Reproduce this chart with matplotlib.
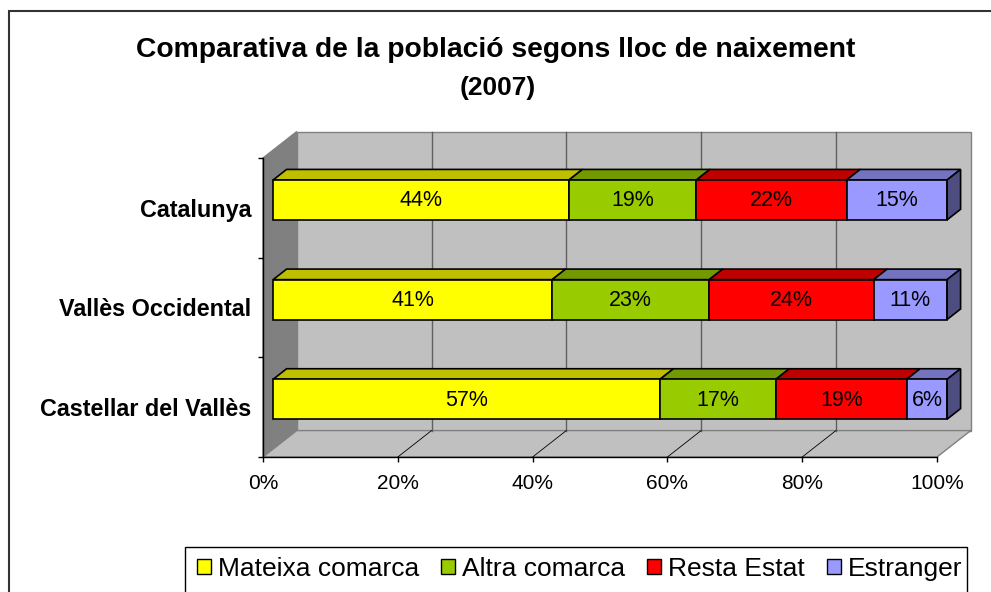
import matplotlib as mpl
mpl.use('Agg')
import matplotlib.pyplot as plt
from matplotlib.patches import Polygon, Rectangle
import numpy as np

plt.rcParams['font.family'] = ['Liberation Sans', 'DejaVu Sans']

# data (percent of population by place of birth, 2007)
categories = ['Castellar del Vallès', 'Vallès Occidental', 'Catalunya']
series = ['Mateixa comarca', 'Altra comarca', 'Resta Estat', 'Estranger']
mateixa = [57.4, 41.4, 43.9]
altra = [17.2, 23.3, 18.9]
resta = [19.4, 24.4, 22.3]
estranger = [6.0, 10.9, 14.9]
xticks = [0, 20, 40, 60, 80, 100]

colors = ['#FFFF00', '#99CC00', '#FF0000', '#9999FF']

W, H = 991, 592
fig = plt.figure(figsize=(W / 100, H / 100), dpi=100)


def fx(px):
    return px / W


def fy(py):
    return 1 - py / H


def shade(c, k):
    return tuple(np.array(mpl.colors.to_rgb(c)) * k)


ax = fig.add_axes([fx(263), fy(457), (937 - 263) / W, (457 - 158) / H])
ax.set_xlim(0, 100)
ax.set_ylim(0, 3)
ax.patch.set_visible(False)

# 3d depth offset in data units
dx, dy = 5.0, 0.265
wall = dict(closed=True, clip_on=False, edgecolor='#808080', lw=1, zorder=1)
ax.add_patch(Polygon([(dx, dy), (100 + dx, dy), (100 + dx, 3 + dy), (dx, 3 + dy)],
                     facecolor='#C0C0C0', **wall))
ax.add_patch(Polygon([(0, 0), (dx, dy), (dx, 3 + dy), (0, 3)],
                     facecolor='#808080', **wall))
ax.add_patch(Polygon([(0, 0), (100, 0), (100 + dx, dy), (dx, dy)],
                     facecolor='#C0C0C0', **wall))
for t in xticks[1:-1]:
    ax.plot([t + dx, t + dx], [dy, 3 + dy], color='#606060', lw=1, clip_on=False, zorder=1.5)
    ax.plot([t, t + dx], [0, dy], color='black', lw=0.6, clip_on=False, zorder=1.5)

# stacked 3d bars
f1, f2, hh = 0.3, 0.7, 0.2
data = np.array([mateixa, altra, resta, estranger])
totals = data.sum(axis=0)
edge = dict(edgecolor='black', lw=1.2, clip_on=False, zorder=3)
for j in range(len(categories)):
    yc = j + 0.5
    left = 0.0
    for i in range(len(series)):
        w = data[i, j] / totals[j] * 100
        top = yc + hh
        ax.add_patch(Polygon([(left + f1 * dx, top + f1 * dy), (left + w + f1 * dx, top + f1 * dy),
                              (left + w + f2 * dx, top + f2 * dy), (left + f2 * dx, top + f2 * dy)],
                             closed=True, facecolor=shade(colors[i], 0.75), **edge))
        ax.add_patch(Rectangle((left + f1 * dx, yc - hh + f1 * dy), w, 2 * hh,
                               facecolor=colors[i], **edge))
        ax.text(left + w / 2 + f1 * dx, yc + f1 * dy - 0.01, '{:.0f}%'.format(data[i, j]),
                ha='center', va='center', fontsize=15.5, zorder=4)
        left += w
    ax.add_patch(Polygon([(100 + f1 * dx, yc - hh + f1 * dy), (100 + f2 * dx, yc - hh + f2 * dy),
                          (100 + f2 * dx, yc + hh + f2 * dy), (100 + f1 * dx, yc + hh + f1 * dy)],
                         closed=True, facecolor=shade(colors[-1], 0.5), **edge))

# axes
for s in ['top', 'right']:
    ax.spines[s].set_visible(False)
for s in ['left', 'bottom']:
    ax.spines[s].set_color('black')
    ax.spines[s].set_linewidth(1)
ax.set_xticks(xticks, labels=['{:d}%'.format(t) for t in xticks])
ax.tick_params(axis='x', direction='out', length=3.6, width=1, pad=8.5, labelsize=15)
ax.set_yticks([0, 1, 2, 3], labels=[])
ax.set_yticks([0.5, 1.5, 2.5], labels=categories, minor=True)
ax.tick_params(axis='y', which='major', direction='out', length=3.6, width=1)
ax.tick_params(axis='y', which='minor', length=0, pad=8.6, labelsize=16.8)
for lab in ax.get_yticklabels(minor=True):
    lab.set_fontweight('bold')

# title
fig.text(fx(495.5), fy(57), 'Comparativa de la població segons lloc de naixement',
         ha='center', va='baseline', fontsize=20.3, fontweight='bold')
fig.text(fx(498), fy(95), '(2007)', ha='center', va='baseline', fontsize=19, fontweight='bold')

# legend
handles = [Rectangle((0, 0), 1, 1, facecolor=c, edgecolor='black', lw=1) for c in colors]
fig.legend(handles, series, loc='center left', bbox_to_anchor=(fx(197), fy(569)), ncol=4,
           frameon=False, fontsize=19, handlelength=0.53, handleheight=0.53,
           handletextpad=0.25, columnspacing=0.85, borderpad=0, borderaxespad=0)
fig.add_artist(Rectangle((fx(185), fy(600)), fx(967) - fx(185), fy(547) - fy(600),
                         transform=fig.transFigure, fill=False, edgecolor='black', lw=1))

# chart area border
fig.add_artist(Rectangle((fx(9), fy(600)), fx(996) - fx(9), fy(11) - fy(600),
                         transform=fig.transFigure, fill=False, edgecolor='#333333', lw=1.5))

fig.savefig('out.png', dpi=100)
